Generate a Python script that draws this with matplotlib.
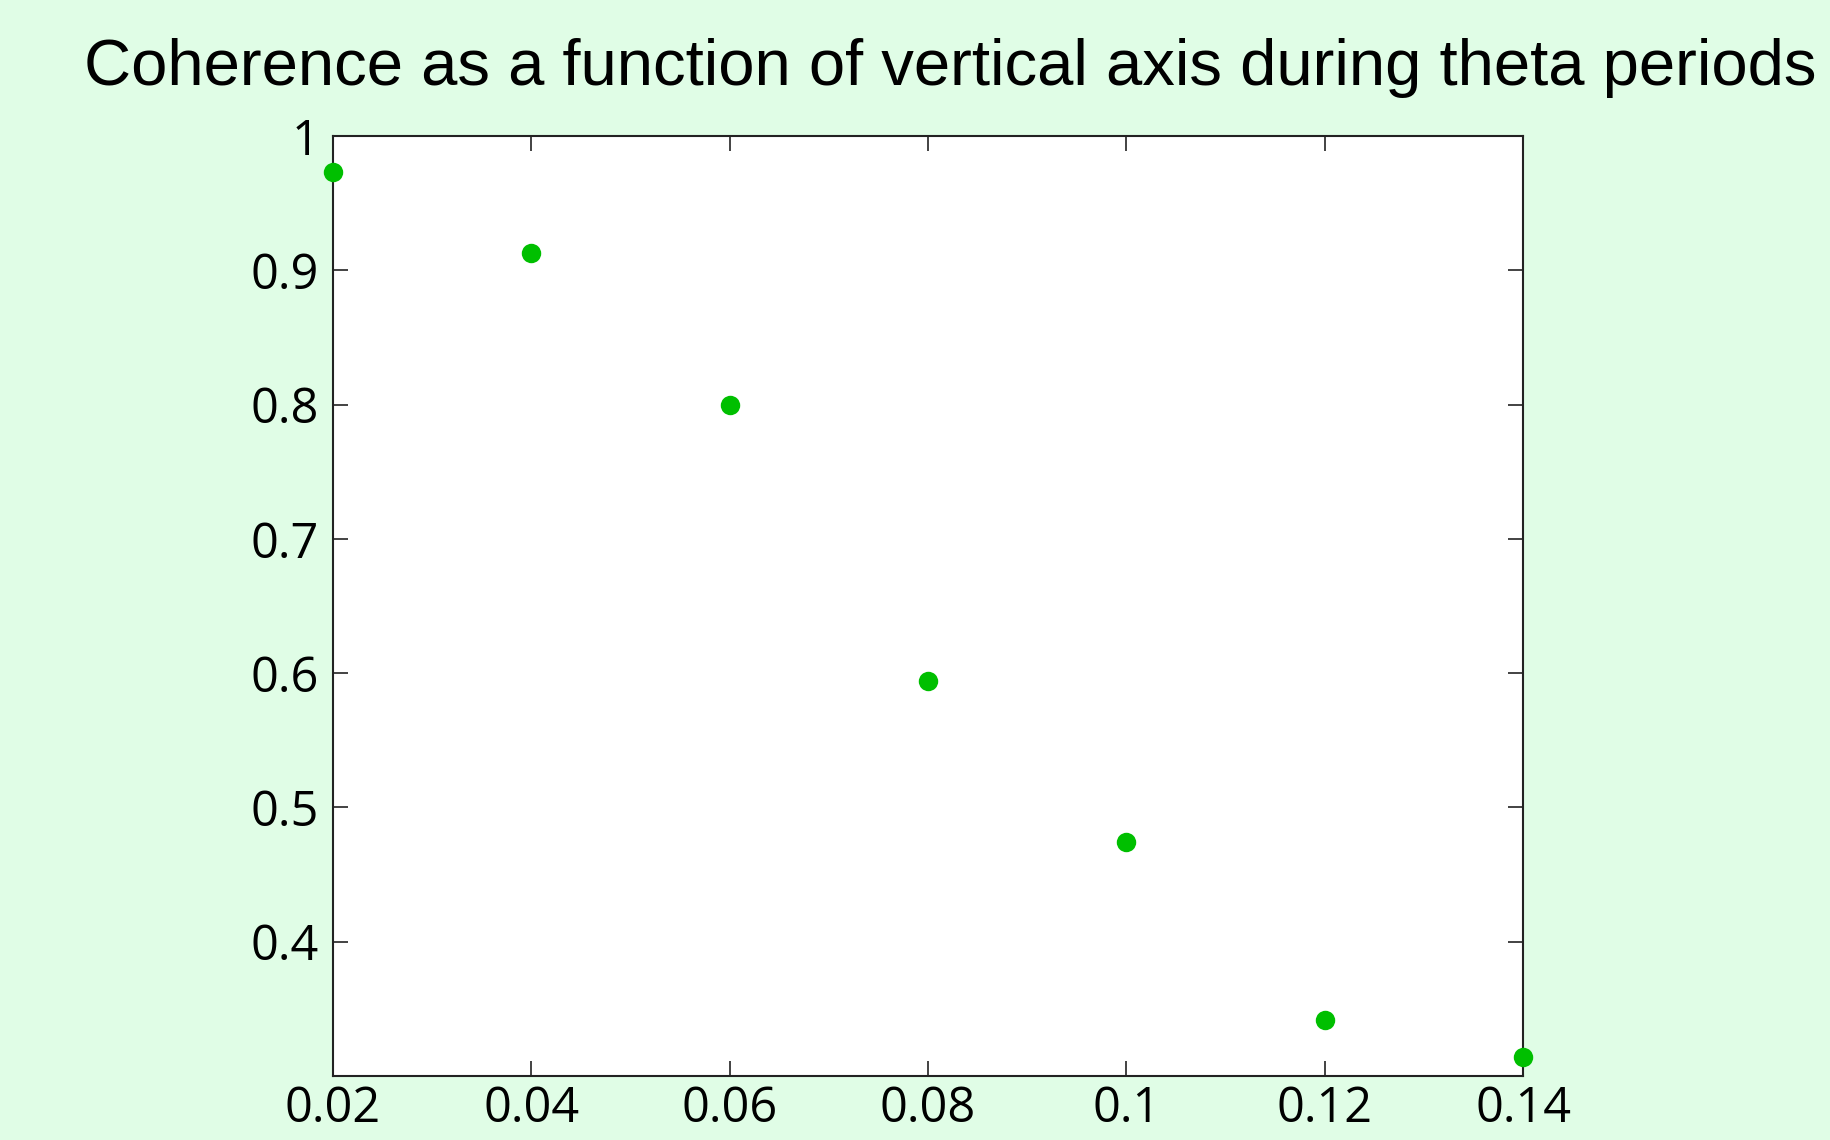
import matplotlib.pyplot as plt

# vertical axis distance vs. coherence during theta periods
distance = [0.02, 0.04, 0.06, 0.08, 0.10, 0.12, 0.14]
coherence = [0.973, 0.913, 0.800, 0.594, 0.474, 0.342, 0.314]

x_ticks = [0.02, 0.04, 0.06, 0.08, 0.1, 0.12, 0.14]
x_tick_labels = ['0.02', '0.04', '0.06', '0.08', '0.1', '0.12', '0.14']
y_ticks = [0.4, 0.5, 0.6, 0.7, 0.8, 0.9, 1.0]
y_tick_labels = ['0.4', '0.5', '0.6', '0.7', '0.8', '0.9', '1']

BG = '#e0fde6'
DOT = '#00bf00'

fig = plt.figure(figsize=(18.3, 11.4), dpi=100, facecolor=BG)
ax = fig.add_axes([333 / 1830, 1 - 1076 / 1140, 1190 / 1830, 940 / 1140])
ax.set_facecolor('white')

ax.plot(distance, coherence, linestyle='none', marker='o',
        markersize=14, color=DOT, markeredgewidth=0, clip_on=False, zorder=3)

ax.set_xlim(0.02, 0.14)
ax.set_ylim(0.3, 1.0)
ax.set_xticks(x_ticks)
ax.set_xticklabels(x_tick_labels)
ax.set_yticks(y_ticks)
ax.set_yticklabels(y_tick_labels)

for lbl in ax.get_xticklabels() + ax.get_yticklabels():
    lbl.set_fontfamily('Open Sans')
    lbl.set_fontsize(35)

ax.tick_params(direction='in', length=11, width=1.2, top=True, right=True,
               colors='#222222', labelcolor='black')
ax.tick_params(axis='x', pad=6)
ax.tick_params(axis='y', pad=10)
for spine in ax.spines.values():
    spine.set_linewidth(1.5)
    spine.set_color('#222222')

fig.text(950 / 1830, 1 - 68 / 1140,
         'Coherence as a function of vertical axis during theta periods',
         ha='center', va='center', fontsize=47, family='Liberation Sans')

fig.savefig('out.png', dpi=100, facecolor=BG)
